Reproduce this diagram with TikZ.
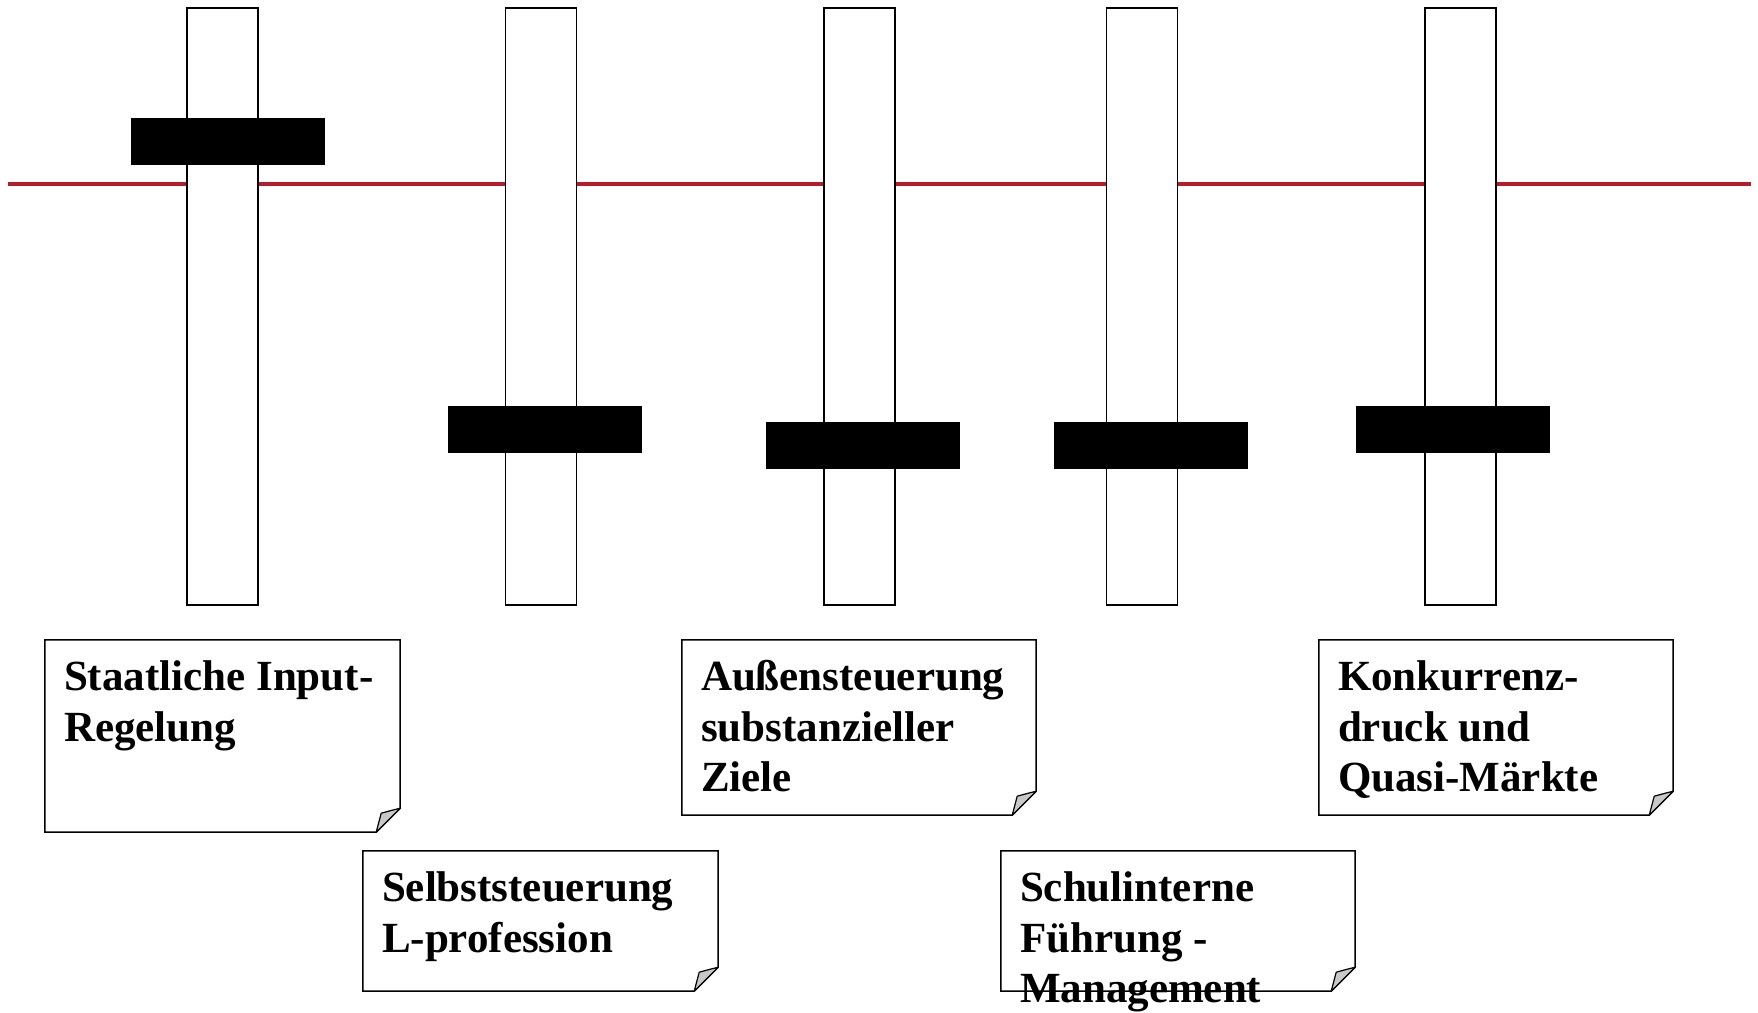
\documentclass[tikz,border=0pt]{standalone}
\usepackage{fontspec}
\setmainfont{Liberation Serif}
\usetikzlibrary{calc,fit}

\definecolor{levelred}{RGB}{183,28,44}
\definecolor{foldgray}{RGB}{200,200,200}

\tikzset{
  redline/.style={draw=levelred, line width=4pt},
  track/.style={draw=black, fill=white, line width=1.8pt, inner sep=0pt,
                minimum width=71pt, minimum height=597pt},
  knob/.style={fill=black, draw=none, inner sep=0pt,
               minimum width=194pt, minimum height=47pt},
  cardarea/.style={inner sep=0pt, draw=none},
  cardline/.style={draw=black, fill=white, line width=1.5pt, line join=miter},
  foldline/.style={draw=black, fill=foldgray, line width=1.2pt, line join=round},
  cardtext/.style={inner sep=0pt, anchor=base west, font=\bfseries},
}

\newlength\foldsize
\setlength\foldsize{24pt}

% note card: name, x0, y0, x1, y1, text lines
\newcommand\notecard[6]{%
  \node[cardarea, fit={(#2,#3) (#4,#5)}] (#1) {};
  \draw[cardline] (#1.north west) -- (#1.north east)
        -- ($(#1.south east)+(0,-24)$) -- ($(#1.south east)+(-24,0)$)
        -- (#1.south west) -- cycle;
  \draw[foldline] ($(#1.south east)+(0,-24)$)
        .. controls ($(#1.south east)+(-8,-22)$) .. ($(#1.south east)+(-19,-19)$)
        -- ($(#1.south east)+(-24,0)$) -- cycle;
  \node[cardtext] (#1-text) at ($(#1.north west)+(19,51)$)
        {\parbox[t]{400pt}{\raggedright\fontsize{43}{50.5}\selectfont #6}};
}

\begin{document}
\begin{tikzpicture}[x=1pt, y=-1pt]
  \useasboundingbox[fill=white] (0,0) rectangle (1758,1012);

  % horizontal reference level
  \coordinate (levelL) at (8,184);
  \coordinate (levelR) at (1751,184);
  \draw[redline] (levelL) -- (levelR);

  % slider tracks
  \node[track] (t1) at (222.5,306.5) {};
  \node[track] (t2) at (541,306.5) {};
  \node[track] (t3) at (859.5,306.5) {};
  \node[track] (t4) at (1142,306.5) {};
  \node[track] (t5) at (1460.5,306.5) {};

  % slider knobs
  \node[knob] (k1) at (228,141.5) {};
  \node[knob] (k2) at (545,429.5) {};
  \node[knob] (k3) at (863,445) {};
  \node[knob] (k4) at (1150.5,445) {};
  \node[knob] (k5) at (1453,429.5) {};

  % labels
  \notecard{n1}{45}{640}{400}{832}{Staatliche Input-\\Regelung}
  \notecard{n2}{363}{851}{718}{991}{Selbststeuerung\\L-profession}
  \notecard{n3}{682}{640}{1036}{815}{Außensteuerung\\substanzieller\\Ziele}
  \notecard{n4}{1001}{851}{1355}{991}{Schulinterne\\Führung -\\Management}
  \notecard{n5}{1319}{640}{1673}{815}{Konkurrenz-\\druck und\\Quasi-Märkte}
\end{tikzpicture}
\end{document}
